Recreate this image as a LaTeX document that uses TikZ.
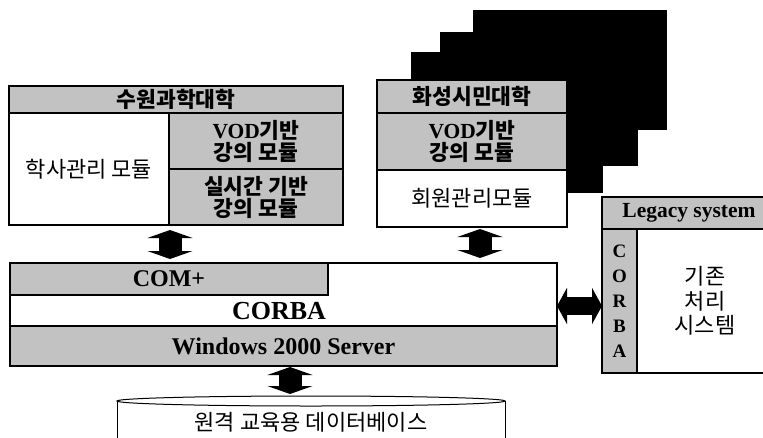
\documentclass[tikz,border=0pt]{standalone}
\usepackage{fontspec}
\setmainfont{Liberation Serif}
\newfontfamily\kr{Noto Sans CJK KR}
\usetikzlibrary{arrows.meta,calc}
\definecolor{shade}{gray}{0.76}
\begin{document}
\begin{tikzpicture}[x=1pt,y=-1pt,
  cell/.style={draw, line width=1.2pt, inner sep=0pt, outer sep=0pt, anchor=north west, align=center},
  gcell/.style={cell, fill=shade},
  wcell/.style={cell, fill=white},
  frame/.style={draw, line width=1.4pt, inner sep=0pt, outer sep=0pt, anchor=north west},
  krt/.style={font=\kr\fontsize{22}{24.5}\selectfont},
  krb/.style={font=\kr\bfseries\fontsize{21.5}{22}\selectfont},
  enb/.style={font=\rmfamily\bfseries\fontsize{#1}{#1}\selectfont},
  shadowbox/.style={fill=black, draw=black, anchor=north west, inner sep=0pt, outer sep=0pt},
  fatV/.style={line width=23pt, {Triangle[width=45pt,length=8pt]}-{Triangle[width=45pt,length=8pt]}},
  fatH/.style={line width=18pt, {Triangle[width=36pt,length=10pt]}-{Triangle[width=36pt,length=10pt]}},
]
\useasboundingbox (0,0) rectangle (763,437);
\fill[white] (0,0) rectangle (763,437);

% left university box
\node[gcell, krb, minimum width=334pt, minimum height=27pt] (Lt) at (9,86) {수원과학대학};
\node[wcell, krt, minimum width=160pt, minimum height=112pt] (Ll) at (9,113) {학사관리 모듈};
\node[gcell, krb, minimum width=174pt, minimum height=56pt] (Lv) at (169,113) {{\rmfamily VOD}기반\\강의 모듈};
\node[gcell, krb, minimum width=174pt, minimum height=56pt] (Lr) at (169,169) {실시간 기반\\강의 모듈};
\node[frame, minimum width=334pt, minimum height=139pt] (L) at (9,86) {};

% stacked black copies
\node[shadowbox, minimum width=193pt, minimum height=119pt] (S3) at (473,10) {};
\node[shadowbox, minimum width=197pt, minimum height=133pt] (S2) at (440,32) {};
\node[shadowbox, minimum width=191pt, minimum height=140pt] (S1) at (411,52) {};

% middle university box
\node[gcell, krb, minimum width=190pt, minimum height=33pt] (Mt) at (377,80) {화성시민대학};
\node[gcell, krb, minimum width=190pt, minimum height=57pt] (Mv) at (377,113) {{\rmfamily VOD}기반\\강의 모듈};
\node[wcell, krt, minimum width=190pt, minimum height=57pt] (Mm) at (377,170) {회원관리모듈};
\node[frame, minimum width=190pt, minimum height=147pt] (M) at (377,80) {};

% middleware layer
\node[wcell, minimum width=547pt, minimum height=103pt] (layer) at (10,263) {};
\node[gcell, enb=24, minimum width=318pt, minimum height=32pt] (com) at (10,263) {COM+};
\node[gcell, enb=24, minimum width=547pt, minimum height=40pt] (win) at (10,326) {Windows 2000 Server};
\node[enb=26, inner sep=0pt] (corba) at (279,311) {CORBA};
\node[frame, minimum width=547pt, minimum height=103pt] (layerF) at (10,263) {};

% legacy system
\node[wcell, minimum width=174pt, minimum height=176pt] (lg) at (602,197) {};
\node[gcell, enb=21.5, minimum width=174pt, minimum height=32pt] (lgt) at (602,197) {Legacy system};
\node[gcell, font=\rmfamily\bfseries\fontsize{19}{25}\selectfont, minimum width=35pt, minimum height=144pt] (lgc) at (602,229) {C\\O\\R\\B\\A};
\node[krt, align=center, inner sep=0pt] (lgx) at (705,301) {기존\\처리\\시스템};

% database
\node[minimum width=388pt, minimum height=41pt, inner sep=0pt, outer sep=0pt, anchor=north west] (DB) at (117,396) {};
\fill[white] ($(DB.north west)+(0,5)$) rectangle (DB.south east);
\draw[line width=1pt] ($(DB.north west)+(0,5)$) -- ($(DB.south west)+(0,4)$);
\draw[line width=1pt] ($(DB.north east)+(0,5)$) -- ($(DB.south east)+(0,4)$);
\draw[line width=1pt, fill=white] ($(DB.north)+(0,5)$) ellipse [x radius=194pt, y radius=5pt];
\node[krt, inner sep=0pt] (DBt) at ($(DB.center)+(0,6)$) {원격 교육용 데이터베이스};

% connectors
\draw[fatV] ($(Ll.south east)+(1,5)$) -- ($(Ll.south east |- layer.north)+(1,-4)$);
\draw[fatV] ($(M.south)+(8,2)$) -- ($(M.south |- layer.north)+(8,-5)$);
\draw[fatV] ($(layer.south)+(6.5,1)$) -- ($(layer.south |- DB.north)+(6.5,-2)$);
\draw[fatH] ($(layer.east |- lgc.west)+(0,5)$) -- ($(lgc.west)+(0,5)$);
\end{tikzpicture}
\end{document}
